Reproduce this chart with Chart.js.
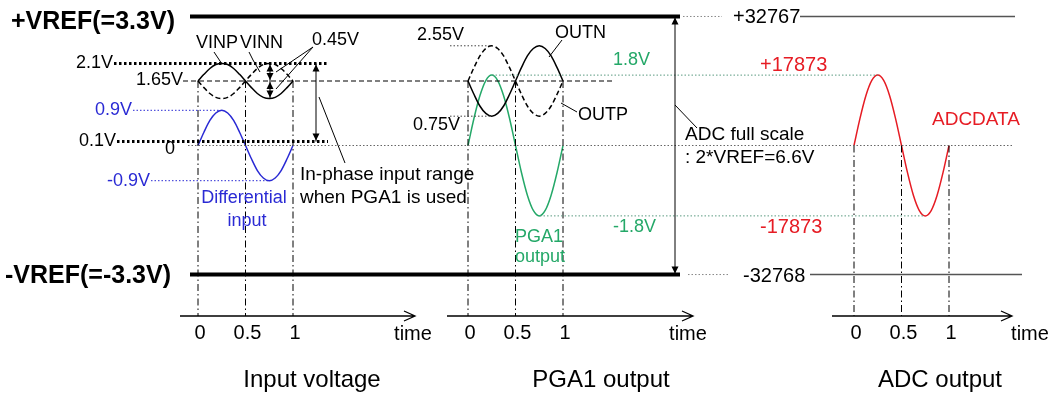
<!DOCTYPE html>
<html><head><meta charset="utf-8">
<script src="https://cdn.jsdelivr.net/npm/chart.js@4.4.1/dist/chart.umd.min.js"></script>
<style>html,body{margin:0;padding:0;background:#fff;}#wrap{width:1055px;height:394px;position:relative;}</style>
</head><body><div id="wrap"><canvas id="c"></canvas></div>
<script>
// ---------------- data ----------------
const waveTime = [0,0.0625,0.125,0.1875,0.25,0.3125,0.375,0.4375,0.5,0.5625,0.625,0.6875,0.75,0.8125,0.875,0.9375,1];
const vinp   = [1.65,1.82,1.97,2.07,2.10,2.07,1.97,1.82,1.65,1.48,1.33,1.23,1.20,1.23,1.33,1.48,1.65];
const vinn   = [1.65,1.48,1.33,1.23,1.20,1.23,1.33,1.48,1.65,1.82,1.97,2.07,2.10,2.07,1.97,1.82,1.65];
const diffIn = [0,0.34,0.64,0.83,0.90,0.83,0.64,0.34,0,-0.34,-0.64,-0.83,-0.90,-0.83,-0.64,-0.34,0];
const outp   = [1.65,1.99,2.29,2.48,2.55,2.48,2.29,1.99,1.65,1.31,1.01,0.82,0.75,0.82,1.01,1.31,1.65];
const outn   = [1.65,1.31,1.01,0.82,0.75,0.82,1.01,1.31,1.65,1.99,2.29,2.48,2.55,2.48,2.29,1.99,1.65];
const pgaOut = [0,0.69,1.27,1.66,1.80,1.66,1.27,0.69,0,-0.69,-1.27,-1.66,-1.80,-1.66,-1.27,-0.69,0];
const adcData= [0,6840,12638,16513,17873,16513,12638,6840,0,-6840,-12638,-16513,-17873,-16513,-12638,-6840,0];
const timeTicks = [0,0.5,1];
const timeTickLabels = ['0','0.5','1'];
const vrefPos = 3.3, vrefNeg = -3.3;
const inputLevels = [2.1, 1.65, 0.9, 0.1, 0, -0.9];
const inputLevelLabels = ['2.1V','1.65V','0.9V','0.1V','0','-0.9V'];
const pgaLevels = [2.55, 0.75, 1.8, -1.8];
const pgaLevelLabels = ['2.55V','0.75V','1.8V','-1.8V'];
const adcCodes = [32767, -32768, 17873, -17873];
const adcCodeLabels = ['+32767','-32768','+17873','-17873'];
const panelTitles = ['Input voltage','PGA1 output','ADC output'];

// ---------------- layout ----------------
const W = 1055, H = 394;
const PX_PER_T = 95;
const origins = {xIn:198, xPga:468, xAdc:854};
const Y0 = 145.5, PX_PER_V = 39.1;
const yMin = -(H - Y0) / PX_PER_V, yMax = Y0 / PX_PER_V;
const CODE_PER_V = 32767 / 3.3;
const axisV = -(316 - Y0) / PX_PER_V; // level of time axes
const BLUE = '#2a2ad4', GREEN = '#24a868', RED = '#e61c24', GRAY = '#666';
const F = '"Liberation Sans", Arial, sans-serif';

function xs(id){ return {type:'linear', display:false, min:-origins[id]/PX_PER_T, max:(W-origins[id])/PX_PER_T}; }
function line(xA, yA, pts, st){
  return Object.assign({data: pts.map(p=>({x:p[0], y:p[1]})), xAxisID:xA, yAxisID:yA, showLine:true,
    pointRadius:0, pointHoverRadius:0, fill:false, borderWidth:1, borderColor:'#000', tension:0}, st||{});
}
function wave(xA, yA, vals, st){
  return Object.assign(line(xA, yA, waveTime.map((t,i)=>[t, vals[i]]), {borderWidth:1.5}), {cubicInterpolationMode:'monotone'}, st||{});
}
const dotted = [1.5,2], heavyDot = [2.5,2.5], dashed = [5,3], dashDot = [7,3,1.5,3];

const ds = [];
// reference rails
ds.push(line('xp','y',[[190,vrefPos],[680,vrefPos]],{borderWidth:4}));
ds.push(line('xp','y',[[190,vrefNeg],[680,vrefNeg]],{borderWidth:4}));
ds.push(line('xp','yAdc',[[683,adcCodes[0]],[722,adcCodes[0]]],{borderColor:'#888',borderDash:dotted}));
ds.push(line('xp','yAdc',[[800,adcCodes[0]],[1015,adcCodes[0]]],{borderColor:'#555',borderWidth:1.5}));
ds.push(line('xp','yAdc',[[688,adcCodes[1]],[730,adcCodes[1]]],{borderColor:'#888',borderDash:dotted}));
ds.push(line('xp','yAdc',[[810,adcCodes[1]],[1022,adcCodes[1]]],{borderColor:'#555',borderWidth:1.5}));
// level lines
ds.push(line('xp','y',[[188,inputLevels[4]],[1013,inputLevels[4]]],{borderColor:GRAY,borderDash:dotted}));
ds.push(line('xp','y',[[183,inputLevels[1]],[613,inputLevels[1]]],{borderDash:dashed,borderWidth:1.2}));
ds.push(line('xp','y',[[114,inputLevels[0]],[328,inputLevels[0]]],{borderWidth:3,borderDash:heavyDot}));
ds.push(line('xp','y',[[117,inputLevels[3]],[328,inputLevels[3]]],{borderWidth:3,borderDash:heavyDot}));
ds.push(line('xp','y',[[133,inputLevels[2]],[219,inputLevels[2]]],{borderColor:BLUE,borderDash:dotted}));
ds.push(line('xp','y',[[151,inputLevels[5]],[268,inputLevels[5]]],{borderColor:BLUE,borderDash:dotted}));
ds.push(line('xp','y',[[450,pgaLevels[0]],[492,pgaLevels[0]]],{borderColor:'#444',borderDash:dotted}));
ds.push(line('xp','y',[[450,pgaLevels[1]],[492,pgaLevels[1]]],{borderColor:'#444',borderDash:dotted}));
ds.push(line('xp','y',[[492,pgaLevels[2]],[878,pgaLevels[2]]],{borderColor:'#5a9a80',borderDash:dotted}));
ds.push(line('xp','y',[[540,pgaLevels[3]],[925,pgaLevels[3]]],{borderColor:'#5a9a80',borderDash:dotted}));
// time marker verticals
timeTicks.forEach(t=>{
  ds.push(line('xIn','y',[[t,1.65],[t,axisV]],{borderDash:dashDot}));
  ds.push(line('xPga','y',[[t,1.65],[t,axisV]],{borderDash:dashDot}));
  ds.push(line('xAdc','y',[[t,0],[t,axisV]],{borderDash:dashDot}));
});
// waves
ds.push(wave('xIn','y',vinp));
ds.push(wave('xIn','y',vinn,{borderDash:dashed}));
ds.push(wave('xIn','y',diffIn,{borderColor:BLUE}));
ds.push(wave('xPga','y',outn));
ds.push(wave('xPga','y',outp,{borderDash:dashed}));
ds.push(wave('xPga','y',pgaOut,{borderColor:GREEN}));
ds.push(wave('xAdc','yAdc',adcData,{borderColor:RED}));
// leader lines (page coords)
[[[214,52],[222,64]], [[249,52],[253,60],[260,72]], [[313,47],[276,72]], [[313,47],[276,89]],
 [[319,97],[345,163]], [[562,40],[549,57]], [[577,112],[561,103]], [[675,105],[697,128]]]
 .forEach(p=>ds.push(line('xp','yp',p,{borderWidth:1})));

// arrows & axes
const vArrows = [
  {xA:'xp', x:270, y1:2.1, y2:1.65}, {xA:'xp', x:270, y1:1.65, y2:1.2},
  {xA:'xp', x:316, y1:2.1, y2:0.1}, {xA:'xp', x:675, y1:3.3, y2:-3.3}
];
const timeAxes = [[180,415],[447,693],[832,1012]];
const timeAxisY = 316;

const texts = [
  {t:'+VREF(=3.3V)', x:11, y:22, f:'bold 25px '+F},
  {t:'-VREF(=-3.3V)', x:5, y:276, f:'bold 25px '+F},
  {t:inputLevelLabels[0], x:113, y:63, a:'right'},
  {t:inputLevelLabels[1], x:183, y:80, a:'right'},
  {t:inputLevelLabels[2], x:132, y:110, a:'right', c:BLUE},
  {t:inputLevelLabels[3], x:116, y:141, a:'right'},
  {t:inputLevelLabels[4], x:170, y:149, a:'center'},
  {t:inputLevelLabels[5], x:150, y:181, a:'right', c:BLUE},
  {t:'VINP', x:196, y:43}, {t:'VINN', x:240, y:43}, {t:'0.45V', x:312, y:40},
  {t:'In-phase input range', x:300, y:175, f:'19px '+F},
  {t:'when PGA1 is used', x:300, y:198, f:'19px '+F},
  {t:'Differential', x:244, y:198, a:'center', c:BLUE},
  {t:'input', x:247, y:221, a:'center', c:BLUE},
  {t:pgaLevelLabels[0], x:417, y:35}, {t:pgaLevelLabels[1], x:413, y:125},
  {t:'OUTN', x:555, y:33}, {t:'OUTP', x:578, y:115},
  {t:pgaLevelLabels[2], x:613, y:60, c:GREEN}, {t:pgaLevelLabels[3], x:613, y:227, c:GREEN},
  {t:'PGA1', x:515, y:237, c:GREEN}, {t:'output', x:515, y:257, c:GREEN},
  {t:'ADC full scale', x:685, y:135, f:'19px '+F},
  {t:': 2*VREF=6.6V', x:685, y:158, f:'19px '+F},
  {t:adcCodeLabels[0], x:733, y:17, f:'20px '+F},
  {t:adcCodeLabels[1], x:743, y:276, f:'20px '+F},
  {t:adcCodeLabels[2], x:760, y:65, f:'20px '+F, c:RED},
  {t:adcCodeLabels[3], x:760, y:227, f:'20px '+F, c:RED},
  {t:'ADCDATA', x:932, y:120, f:'19px '+F, c:RED},
  {t:panelTitles[0], x:312, y:380, a:'center', f:'24px '+F},
  {t:panelTitles[1], x:601, y:380, a:'center', f:'24px '+F},
  {t:panelTitles[2], x:940, y:380, a:'center', f:'24px '+F},
  {t:'time', x:413, y:334, a:'center', f:'20px '+F},
  {t:'time', x:688, y:334, a:'center', f:'20px '+F},
  {t:'time', x:1030, y:334, a:'center', f:'20px '+F}
];

const deco = {
  id:'deco',
  afterDatasetsDraw(chart){
    const ctx = chart.ctx, s = chart.scales;
    ctx.save();
    ctx.strokeStyle = '#000'; ctx.fillStyle = '#000'; ctx.lineWidth = 1;
    // vertical double arrows
    vArrows.forEach(a=>{
      const x = s[a.xA].getPixelForValue(a.x), y1 = s.y.getPixelForValue(a.y1), y2 = s.y.getPixelForValue(a.y2);
      ctx.beginPath(); ctx.moveTo(x,y1); ctx.lineTo(x,y2); ctx.stroke();
      [[y1,1],[y2,-1]].forEach(([yy,d])=>{
        ctx.beginPath(); ctx.moveTo(x,yy+d*1); ctx.lineTo(x-3.5,yy+d*8); ctx.lineTo(x+3.5,yy+d*8); ctx.closePath(); ctx.fill();
      });
    });
    // time axes with open arrow heads
    const yA = s.yp.getPixelForValue(timeAxisY);
    ctx.lineWidth = 1.3;
    timeAxes.forEach(([a,b])=>{
      const x1 = s.xp.getPixelForValue(a), x2 = s.xp.getPixelForValue(b);
      ctx.beginPath(); ctx.moveTo(x1,yA); ctx.lineTo(x2,yA);
      ctx.moveTo(x2-11,yA-5); ctx.lineTo(x2,yA); ctx.lineTo(x2-11,yA+5); ctx.stroke();
    });
    // time tick labels
    ctx.font = '20px '+F; ctx.textAlign = 'center'; ctx.textBaseline = 'middle';
    ['xIn','xPga','xAdc'].forEach(id=>{
      timeTicks.forEach((t,i)=>{
        ctx.fillText(timeTickLabels[i], s[id].getPixelForValue(t)+2, s.yp.getPixelForValue(333));
      });
    });
    // texts
    texts.forEach(o=>{
      ctx.font = o.f || ('18px '+F); ctx.fillStyle = o.c || '#000';
      ctx.textAlign = o.a || 'left'; ctx.textBaseline = 'middle';
      ctx.fillText(o.t, s.xp.getPixelForValue(o.x), s.yp.getPixelForValue(o.y));
    });
    ctx.restore();
  }
};

new Chart(document.getElementById('c'), {
  type:'scatter',
  data:{datasets:ds},
  options:{
    responsive:true, maintainAspectRatio:false, animation:false,
    layout:{padding:0},
    plugins:{legend:{display:false}, tooltip:{enabled:false}},
    events:[],
    scales:{
      xp:{type:'linear', display:false, min:0, max:W},
      yp:{type:'linear', display:false, min:0, max:H, reverse:true},
      xIn:xs('xIn'), xPga:xs('xPga'), xAdc:xs('xAdc'),
      y:{type:'linear', display:false, min:yMin, max:yMax},
      yAdc:{type:'linear', display:false, min:yMin*CODE_PER_V, max:yMax*CODE_PER_V}
    }
  },
  plugins:[deco]
});
</script></body></html>
